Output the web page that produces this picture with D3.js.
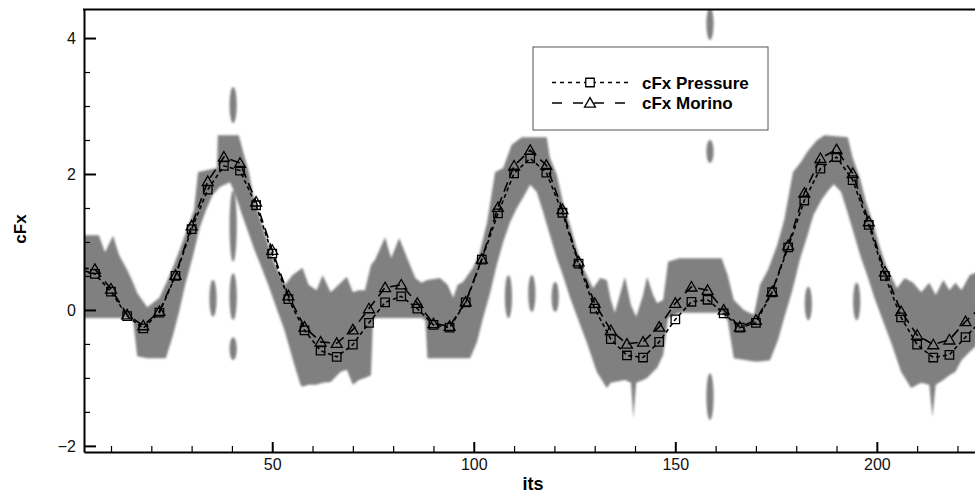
<!DOCTYPE html>
<html>
<head>
<meta charset="utf-8">
<script src="https://cdn.jsdelivr.net/npm/d3@7"></script>
<style>
  body { margin: 0; background: #fff; }
  svg { display: block; font-family: "Liberation Sans", Arial, Helvetica, sans-serif; }
</style>
</head>
<body>
<svg id="chart" width="975" height="497"></svg>
<script>
// Iteration numbers of the sampled points
const its = [2, 6, 10, 14, 18, 22, 26, 30, 34, 38, 42, 46, 50, 54, 58, 62, 66, 70, 74, 78,
  82, 86, 90, 94, 98, 102, 106, 110, 114, 118, 122, 126, 130, 134, 138, 142, 146, 150, 154, 158,
  162, 166, 170, 174, 178, 182, 186, 190, 194, 198, 202, 206, 210, 214, 218, 222, 226];

// cFx from the pressure integration
const cfxPressure = [0.60, 0.53, 0.27, -0.09, -0.27, -0.04, 0.50, 1.19, 1.77, 2.12, 2.05, 1.54, 0.83, 0.16, -0.30, -0.60, -0.69, -0.51, -0.19, 0.11,
  0.20, 0.02, -0.22, -0.26, 0.11, 0.74, 1.42, 2.01, 2.23, 2.02, 1.43, 0.68, 0.02, -0.43, -0.67, -0.70, -0.47, -0.14, 0.12, 0.15,
  -0.05, -0.26, -0.19, 0.26, 0.92, 1.61, 2.08, 2.25, 1.91, 1.25, 0.50, -0.11, -0.51, -0.70, -0.66, -0.40, -0.15];

// cFx from the Morino formulation
const cfxMorino = [0.62, 0.60, 0.31, -0.07, -0.23, -0.02, 0.51, 1.24, 1.89, 2.25, 2.16, 1.59, 0.88, 0.21, -0.25, -0.47, -0.49, -0.29, 0.02, 0.33,
  0.37, 0.10, -0.20, -0.24, 0.12, 0.75, 1.51, 2.12, 2.35, 2.13, 1.48, 0.71, 0.10, -0.30, -0.50, -0.47, -0.25, 0.10, 0.34, 0.29,
  0.00, -0.25, -0.15, 0.27, 0.95, 1.72, 2.23, 2.36, 2.01, 1.30, 0.56, -0.02, -0.37, -0.51, -0.44, -0.17, 0.05];

// Grey scatter band behind the curves: upper boundary
const bandUpperIts = [3, 7, 8.5, 10.5, 12, 14, 15.5, 16.5, 19, 22, 23.5, 25.6, 27.5, 29, 30.6, 31.6, 36.3, 36.5, 41.7, 43,
  44.2, 45.5, 47.5, 49, 50.7, 53.2, 55, 57.5, 59, 61, 62.5, 64.5, 67, 68.5, 70, 71.5, 73, 74.5, 75.5, 78,
  79.5, 81.5, 83.5, 85.5, 87, 88.5, 91.6, 93.5, 94.9, 96, 97.3, 99.8, 101.5, 103.3, 105.3, 107.3, 109.4, 111.9, 118.1, 118.9,
  120.6, 122.1, 123.9, 125.5, 127.1, 129.6, 131.4, 133, 134, 135, 137.5, 139, 140.3, 142, 143, 144.5, 145.5, 147, 148.2, 151,
  161.5, 163, 164.5, 167, 169.5, 171, 173, 175.3, 177, 179.2, 181, 183, 185.2, 187, 192.8, 194, 195.8, 197.3, 199.2, 200.8,
  202.5, 205, 206.9, 209, 211, 213, 214.6, 216.5, 218, 219.5, 221, 223, 225];
const bandUpper = [1.10, 1.10, 0.85, 1.09, 0.81, 0.59, 0.40, 0.25, 0.04, 0.18, 0.37, 0.66, 0.96, 1.21, 1.47, 2.03, 2.09, 2.57, 2.57, 2.28,
  2.03, 1.62, 1.25, 0.96, 0.66, 0.37, 0.51, 0.62, 0.37, 0.29, 0.51, 0.26, 0.40, 0.49, 0.26, 0.29, 0.29, 0.66, 0.74, 1.07,
  0.76, 1.06, 0.76, 0.47, 0.40, 0.44, 0.47, 0.37, 0.18, 0.37, 0.41, 0.62, 0.85, 1.29, 2.03, 2.09, 2.43, 2.54, 2.54, 2.24,
  1.99, 1.59, 1.25, 0.91, 0.62, 0.32, 0.47, 0.44, 0.15, -0.04, 0.49, 0.07, -0.10, 0.22, 0.49, 0.22, 0.10, 0.15, 0.71, 0.76,
  0.76, 0.51, 0.15, 0.00, -0.07, 0.37, 0.59, 0.96, 1.32, 2.03, 2.16, 2.35, 2.50, 2.57, 2.54, 2.24, 1.94, 1.59, 1.25, 0.91,
  0.62, 0.32, 0.47, 0.40, 0.26, 0.40, 0.22, 0.44, 0.29, 0.40, 0.29, 0.51, 0.56];

// Grey scatter band: lower boundary
const bandLowerIts = [3, 14, 15.5, 16.5, 19, 22, 23.6, 25.4, 27, 28.4, 30.4, 32, 33.6, 35.2, 37, 39.5, 40.6, 42.5, 44, 45.6,
  47.1, 49, 51.4, 53, 55.5, 57, 57.5, 59, 61, 62.5, 64.5, 67, 68.5, 70, 71.5, 73, 74.5, 75, 75.5, 87,
  88, 88.5, 99.1, 100.8, 102.3, 104.1, 105.7, 107.3, 109, 110.7, 112.2, 114, 115.6, 117.2, 118.9, 120.6, 122.1, 123.9, 126.4, 128,
  130.5, 133, 134, 137.5, 139, 139.6, 140.3, 142, 143, 144.5, 145.5, 147, 148.2, 151, 161.5, 163, 164.5, 169.5, 171, 173.5,
  175.5, 177, 179, 181, 182.8, 184.3, 186.3, 188, 189.3, 191.1, 192.7, 194.4, 196.1, 197.6, 199.4, 201.9, 203.5, 206, 208.5, 211,
  213, 213.8, 214.6, 216.5, 218, 219.5, 221, 223, 225];
const bandLower = [-0.12, -0.12, -0.15, -0.68, -0.71, -0.71, -0.71, -0.37, 0.00, 0.37, 0.81, 1.21, 1.47, 1.69, 1.81, 1.88, 1.74, 1.40, 1.15, 0.88,
  0.66, 0.37, -0.03, -0.29, -0.81, -1.10, -1.13, -1.10, -1.10, -1.07, -1.06, -0.91, -0.88, -1.10, -1.03, -1.00, -0.96, -0.15, -0.12, -0.12,
  -0.15, -0.71, -0.71, -0.47, -0.12, 0.26, 0.66, 1.00, 1.29, 1.50, 1.65, 1.84, 1.74, 1.44, 1.10, 0.76, 0.51, 0.18, -0.22, -0.47,
  -0.91, -1.15, -1.07, -1.03, -1.07, -1.59, -1.07, -1.03, -1.00, -0.91, -0.85, -0.66, -0.12, -0.04, -0.04, -0.15, -0.71, -0.76, -0.76, -0.74,
  -0.44, -0.12, 0.28, 0.76, 1.10, 1.40, 1.62, 1.76, 1.85, 1.74, 1.44, 1.10, 0.76, 0.51, 0.18, -0.22, -0.47, -0.91, -1.15, -1.07,
  -1.10, -1.57, -1.10, -1.03, -0.96, -0.91, -0.74, -0.62, -0.51];

// Isolated scatter streaks: position and cFx extent
const streakIts = [35.3, 40.3, 40.3, 40.3, 40.3, 108.6, 114.4, 120.2, 158.6, 158.6, 158.6, 183, 195];
const streakTop = [0.44, 3.28, 1.76, 0.54, -0.40, 0.51, 0.51, 0.41, 4.45, 2.50, -0.93, 0.34, 0.40];
const streakBottom = [-0.10, 2.75, 0.71, -0.15, -0.74, -0.12, -0.03, -0.03, 3.97, 2.16, -1.62, -0.15, -0.15];

// Axis ticks
const xTicks = [50, 100, 150, 200];
const xMinorTicks = [10, 20, 30, 40, 60, 70, 80, 90, 110, 120, 130, 140, 160, 170, 180, 190, 210, 220];
const yTicks = [-2, 0, 2, 4];
const yMinorTicks = [-1.5, -1, -0.5, 0.5, 1, 1.5, 2.5, 3, 3.5];

const seriesNames = ["cFx Pressure", "cFx Morino"];

const svg = d3.select("#chart");
const plotLeft = 84, plotRight = 976, plotTop = 9.5, plotBottom = 452;

const x = d3.scaleLinear().domain([3.3, 224.6]).range([plotLeft, plotRight]);
const y = d3.scaleLinear().domain([-2.09, 4.42]).range([plotBottom, plotTop]);

const defs = svg.append("defs");
defs.append("clipPath").attr("id", "plot-clip")
  .append("rect").attr("x", plotLeft).attr("y", plotTop)
  .attr("width", plotRight - plotLeft).attr("height", plotBottom - plotTop);
defs.append("filter").attr("id", "soft").attr("x", "-5%").attr("y", "-5%").attr("width", "110%").attr("height", "110%")
  .append("feGaussianBlur").attr("stdDeviation", 1.3);

const plot = svg.append("g").attr("clip-path", "url(#plot-clip)");

// Grey scatter band: upper edge left to right, then lower edge back
const upperPts = bandUpperIts.map((t, i) => [t, bandUpper[i]]);
const lowerPts = bandLowerIts.map((t, i) => [t, bandLower[i]]).reverse();
const outline = d3.line().x(d => x(d[0])).y(d => y(d[1]));
const shade = plot.append("g").attr("filter", "url(#soft)").attr("fill", "#808080");
shade.append("path").attr("d", outline(upperPts.concat(lowerPts)) + "Z");

streakIts.forEach((t, i) => {
  const y0 = y(streakTop[i]), y1 = y(streakBottom[i]);
  shade.append("ellipse")
    .attr("cx", x(t)).attr("cy", (y0 + y1) / 2)
    .attr("rx", 3.6).attr("ry", (y1 - y0) / 2);
});

// Curves
const pressure = its.map((t, i) => ({ t, v: cfxPressure[i] }));
const morino = its.map((t, i) => ({ t, v: cfxMorino[i] }));
const line = d3.line().x(d => x(d.t)).y(d => y(d.v));

plot.append("path").datum(morino).attr("d", line)
  .attr("fill", "none").attr("stroke", "#000").attr("stroke-width", 1.6)
  .attr("stroke-dasharray", "10,6");
plot.append("path").datum(pressure).attr("d", line)
  .attr("fill", "none").attr("stroke", "#000").attr("stroke-width", 1.6)
  .attr("stroke-dasharray", "4,3");

const squareSym = d3.symbol().type(d3.symbolSquare).size(72);
const triSym = d3.symbol().type(d3.symbolTriangle).size(52);

plot.append("g").selectAll("path").data(morino).join("path")
  .attr("transform", d => `translate(${x(d.t)},${y(d.v) + 1})`)
  .attr("d", triSym).attr("fill", "none").attr("stroke", "#000").attr("stroke-width", 1.3);
plot.append("g").selectAll("path").data(pressure).join("path")
  .attr("transform", d => `translate(${x(d.t)},${y(d.v)})`)
  .attr("d", squareSym).attr("fill", "none").attr("stroke", "#000").attr("stroke-width", 1.3);

// Axes (ticks point into the plot)
const axisStyle = g => {
  g.selectAll(".domain").attr("stroke", "#000").attr("stroke-width", 2);
  g.selectAll(".tick line").attr("stroke", "#000").attr("stroke-width", 2);
  g.selectAll(".tick text").attr("fill", "#111").attr("font-size", 16);
};

svg.append("g").attr("transform", `translate(0,${plotBottom})`)
  .call(d3.axisBottom(x).tickValues(xMinorTicks).tickSize(-6).tickSizeOuter(0).tickFormat(""))
  .call(g => { g.select(".domain").remove(); g.selectAll(".tick line").attr("stroke", "#000").attr("stroke-width", 1.2); });
svg.append("g").attr("transform", `translate(${plotLeft},0)`)
  .call(d3.axisLeft(y).tickValues(yMinorTicks).tickSize(-6).tickSizeOuter(0).tickFormat(""))
  .call(g => { g.select(".domain").remove(); g.selectAll(".tick line").attr("stroke", "#000").attr("stroke-width", 1.2); });

svg.append("g").attr("transform", `translate(0,${plotBottom})`)
  .call(d3.axisBottom(x).tickValues(xTicks).tickSize(-10).tickSizeOuter(0).tickPadding(7).tickFormat(d3.format("d")))
  .call(axisStyle);
svg.append("g").attr("transform", `translate(${plotLeft},0)`)
  .call(d3.axisLeft(y).tickValues(yTicks).tickSize(-12).tickSizeOuter(0).tickPadding(8).tickFormat(d3.format("d")))
  .call(axisStyle);

// Frame top edge
svg.append("line").attr("x1", plotLeft - 1).attr("x2", plotRight).attr("y1", plotTop).attr("y2", plotTop)
  .attr("stroke", "#000").attr("stroke-width", 2);

// Axis titles
svg.append("text").attr("x", 533).attr("y", 490).attr("text-anchor", "middle")
  .attr("font-size", 18).attr("font-weight", "bold").attr("fill", "#000").text("its");
svg.append("text").attr("transform", "translate(26,229) rotate(-90)").attr("text-anchor", "middle")
  .attr("font-size", 17).attr("font-weight", "bold").attr("fill", "#000").text("cFx");

// Legend
const lg = svg.append("g");
lg.append("rect").attr("x", 533).attr("y", 47).attr("width", 235).attr("height", 83)
  .attr("fill", "#fff").attr("stroke", "#555").attr("stroke-width", 1);
const rows = [
  { name: seriesNames[0], dash: "4,4", sym: squareSym, ly: 82.5, dy: 0 },
  { name: seriesNames[1], dash: "10,11", sym: triSym, ly: 103, dy: 1 }
];
rows.forEach(r => {
  lg.append("line").attr("x1", 552).attr("x2", 628).attr("y1", r.ly).attr("y2", r.ly)
    .attr("stroke", "#000").attr("stroke-width", 1.6).attr("stroke-dasharray", r.dash);
  lg.append("path").attr("transform", `translate(590,${r.ly + r.dy})`).attr("d", r.sym)
    .attr("fill", "#fff").attr("stroke", "#000").attr("stroke-width", 1.3);
  lg.append("text").attr("x", 642).attr("y", r.ly + 6).attr("font-size", 17).attr("font-weight", "bold")
    .attr("fill", "#000").text(r.name);
});
</script>
</body>
</html>
